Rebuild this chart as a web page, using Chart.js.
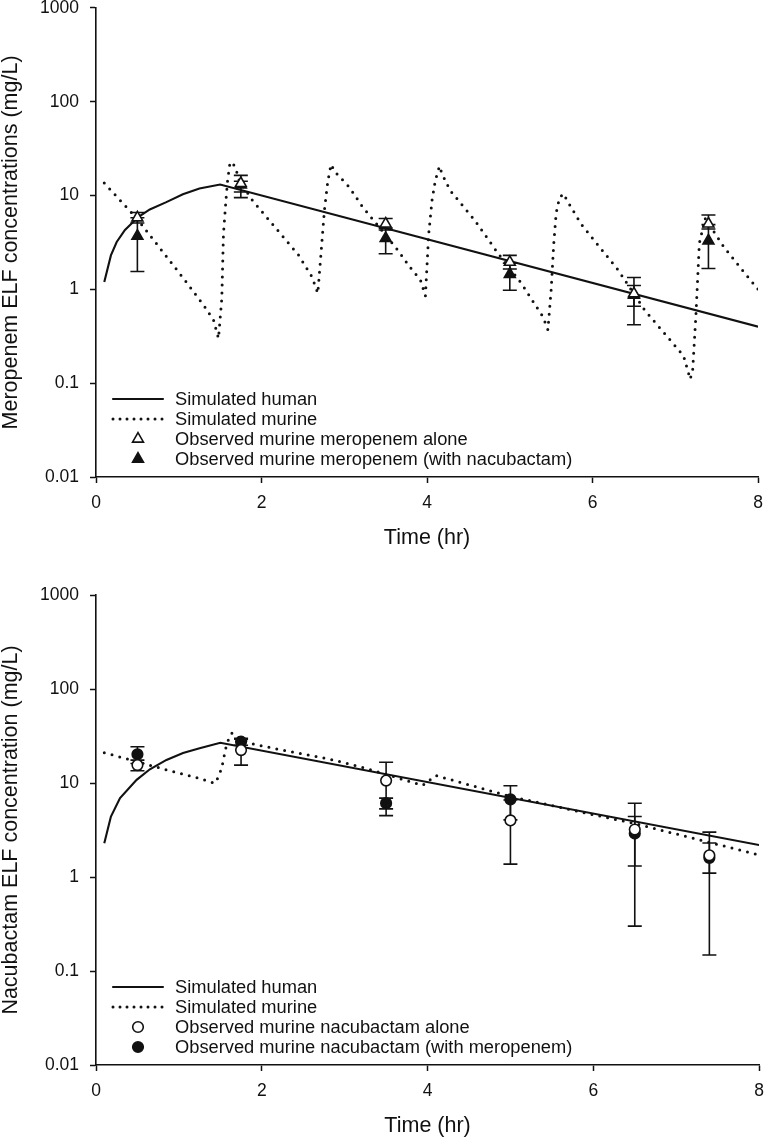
<!DOCTYPE html>
<html>
<head>
<meta charset="utf-8">
<title>ELF concentrations</title>
<script src="https://cdn.jsdelivr.net/npm/chart.js@4.4.1/dist/chart.umd.min.js"></script>
<style>
  body { margin: 0; background: #fff; }
  .panel { position: relative; width: 766px; }
  canvas { display: block; }
</style>
</head>
<body>
<div class="panel" style="height:560px"><canvas id="mero-chart" width="766" height="560"></canvas></div>
<div class="panel" style="height:579px"><canvas id="nacu-chart" width="766" height="579"></canvas></div>

<script>
// ---- data ----

const xTicks = [0, 2, 4, 6, 8];
const yTicks = [0.01, 0.1, 1, 10, 100, 1000];

// sampling times of the observed murine data (hr)
const obsTime = [0.5, 1.75, 3.5, 5.0, 6.5, 7.4];

// Meropenem, simulated human
const meroHumanTime = [0.1, 0.18, 0.25, 0.35, 0.51, 0.65, 0.85, 1.05, 1.25, 1.5, 8];
const meroHumanConc = [1.2, 2.3, 3.2, 4.3, 5.9, 7.1, 8.5, 10.3, 11.9, 13.1, 0.4];

// Meropenem, simulated murine (sawtooth from repeated doses)
const meroMurineTime = [0.1, 0.5, 1.09, 1.31, 1.42, 1.48, 1.52, 1.54, 1.57, 1.59, 1.62, 1.68, 1.73, 1.89,
  2.45, 2.61, 2.68, 2.72, 2.76, 2.8, 2.84, 2.89, 3.06, 3.22, 3.65, 3.79, 3.92, 3.98,
  4.02, 4.06, 4.1, 4.15, 4.18, 4.28, 4.58, 4.86, 5.14, 5.4, 5.46, 5.5, 5.53, 5.56, 5.6, 5.65,
  5.69, 5.86, 6.31, 6.63, 6.95, 7.1, 7.18, 7.21, 7.25, 7.29, 7.36, 7.43, 7.59, 7.81, 8.0];
const meroMurineConc = [13.6, 5.6, 1.2, 0.66, 0.47, 0.3, 0.8, 3.9, 8.9, 14.5, 22.7, 20.6, 14.5, 8.9,
  2.3, 1.36, 0.91, 2.5, 7, 14, 21.5, 17.8, 12.3, 7.6, 2.6, 1.74, 1.26, 0.85,
  3.9, 8.9, 14.5, 20.6, 17.1, 11.3, 5.4, 2.4, 1.16, 0.51, 0.37, 1.0, 3.0, 6.5, 9.5, 10.5,
  8.9, 5.0, 1.6, 0.6, 0.28, 0.195, 0.11, 0.14, 0.56, 3.1, 5.7, 4.6, 2.8, 1.6, 1.0];

// Meropenem, observed murine (mean, lower and upper end of the error bar)
const meroAloneMean = [5.8, 13.5, 5.0, 1.95, 0.9, 5.0];
const meroAloneLow  = [5.1, 10.9, 4.3, 1.65, 0.42, 4.4];
const meroAloneHigh = [6.6, 16.4, 5.7, 2.3, 1.34, 6.2];
const meroComboMean = [3.7, 13.0, 3.5, 1.45, 0.87, 3.3];
const meroComboLow  = [1.55, 9.5, 2.4, 0.98, 0.66, 1.67];
const meroComboHigh = [5.8, 14.2, 4.5, 1.9, 1.1, 4.9];

// Nacubactam, simulated human
const nacuHumanTime = [0.1, 0.18, 0.29, 0.49, 0.65, 0.85, 1.05, 1.25, 1.5, 8];
const nacuHumanConc = [2.28, 4.4, 6.9, 10.8, 14.0, 17.6, 20.8, 23.4, 26.8, 2.19];

// Nacubactam, simulated murine
const nacuMurineTime = [0.1, 0.85, 1.25, 1.43, 1.48, 1.52, 1.54, 1.57, 1.61, 1.64, 1.75, 1.9, 2.05,
  2.86, 3.26, 3.66, 3.94, 4.1, 5.0, 6.0, 6.5, 8.0];
const nacuMurineConc = [21, 13.8, 11.2, 9.9, 11.7, 14.9, 18.3, 24.3, 31.1, 33.8, 29.5, 26, 24.3,
  17.6, 14.3, 11.2, 9.4, 12.0, 7.2, 4.6, 3.7, 1.72];

// Nacubactam, observed murine
const nacuAloneMean = [15.5, 22.4, 10.6, 4.0, 3.2, 1.7];
const nacuAloneLow  = [13.5, 15.5, 4.5, 1.37, 0.3, 1.1];
const nacuAloneHigh = [17.5, 29.3, 16.6, 6.6, 6.1, 2.3];
const nacuComboMean = [20.2, 27.5, 6.1, 6.7, 2.9, 1.6];
const nacuComboLow  = [16.1, 25.2, 5.3, 4.05, 1.31, 0.148];
const nacuComboHigh = [24.3, 29.8, 6.9, 9.35, 4.4, 3.0];

// ---- drawing ----

const INK = '#111111';
const FONT = '"Liberation Sans", Arial, Helvetica, sans-serif';
Chart.defaults.font.family = FONT;
Chart.defaults.color = INK;

function toPoints(xs, ys) {
  return xs.map((x, i) => ({ x: x, y: ys[i] }));
}

// vertical error bars with caps, drawn just under each marker set
const errorBarPlugin = {
  id: 'errorBars',
  beforeDatasetDraw(chart, args) {
    const ds = chart.data.datasets[args.index];
    if (!ds.errLow) return;
    const { ctx, scales: { x, y } } = chart;
    ctx.save();
    ctx.strokeStyle = INK;
    ctx.lineWidth = 1.6;
    ds.data.forEach((pt, i) => {
      const px = x.getPixelForValue(pt.x);
      const top = y.getPixelForValue(ds.errHigh[i]);
      const bottom = y.getPixelForValue(ds.errLow[i]);
      ctx.beginPath();
      ctx.moveTo(px, top);
      ctx.lineTo(px, bottom);
      ctx.moveTo(px - 7, top);
      ctx.lineTo(px + 7, top);
      ctx.moveTo(px - 7, bottom);
      ctx.lineTo(px + 7, bottom);
      ctx.stroke();
    });
    ctx.restore();
  }
};

// legend sitting in the lower left corner of the plot
const cornerLegendPlugin = {
  id: 'cornerLegend',
  afterDatasetsDraw(chart) {
    const { ctx, chartArea } = chart;
    const rowOffsets = [78, 58, 38, 18];
    const x0 = chartArea.left + 17;
    const x1 = chartArea.left + 67;
    ctx.save();
    ctx.font = '18.3px ' + FONT;
    ctx.textBaseline = 'middle';
    chart.data.datasets.forEach((ds, i) => {
      const y = chartArea.bottom - rowOffsets[i];
      ctx.strokeStyle = INK;
      if (ds.showLine) {
        ctx.lineWidth = ds.borderWidth;
        ctx.lineCap = 'round';
        ctx.setLineDash(ds.borderDash ? [0, 7] : []);
        ctx.beginPath();
        ctx.moveTo(x0, y);
        ctx.lineTo(x1, y);
        ctx.stroke();
        ctx.setLineDash([]);
      } else {
        ctx.fillStyle = ds.backgroundColor;
        ctx.lineWidth = ds.borderWidth;
        Chart.helpers.drawPoint(ctx, {
          pointStyle: ds.pointStyle,
          radius: ds.pointRadius,
          rotation: 0,
          borderWidth: ds.borderWidth
        }, (x0 + x1) / 2, y);
      }
      ctx.fillStyle = INK;
      ctx.fillText(ds.label, chartArea.left + 79, y + 1);
    });
    ctx.restore();
  }
};

function makeChart(canvasId, cfg) {
  const ctx = document.getElementById(canvasId).getContext('2d');
  return new Chart(ctx, {
    type: 'scatter',
    data: {
      datasets: [
        {
          label: 'Simulated human',
          data: toPoints(cfg.humanTime, cfg.humanConc),
          showLine: true, pointRadius: 0, tension: 0,
          borderColor: INK, borderWidth: 2.1,
          order: 3
        },
        {
          label: 'Simulated murine',
          data: toPoints(cfg.murineTime, cfg.murineConc),
          showLine: true, pointRadius: 0, tension: 0,
          borderColor: INK, borderWidth: 3,
          borderDash: [0, 8], borderCapStyle: 'round',
          order: 2
        },
        {
          label: cfg.aloneLabel,
          data: toPoints(obsTime, cfg.aloneMean),
          errLow: cfg.aloneLow, errHigh: cfg.aloneHigh,
          pointStyle: cfg.marker, pointRadius: cfg.markerRadius,
          backgroundColor: '#ffffff', borderColor: INK, borderWidth: 1.6,
          order: 0
        },
        {
          label: cfg.comboLabel,
          data: toPoints(obsTime, cfg.comboMean),
          errLow: cfg.comboLow, errHigh: cfg.comboHigh,
          pointStyle: cfg.marker, pointRadius: cfg.markerRadius,
          backgroundColor: INK, borderColor: INK, borderWidth: 1.6,
          order: 1
        }
      ]
    },
    options: {
      responsive: false,
      animation: false,
      events: [],
      layout: { padding: cfg.padding },
      scales: {
        x: {
          type: 'linear', min: 0, max: 8,
          afterBuildTicks: (s) => { s.ticks = xTicks.map(v => ({ value: v })); },
          afterFit: (s) => { s.height = 74; s.paddingLeft = 0; s.paddingRight = 0; },
          grid: { drawOnChartArea: false, drawTicks: true, tickLength: 6, tickWidth: 1.5, tickColor: INK },
          border: { display: true, color: INK, width: 1.6 },
          ticks: { color: INK, font: { size: 17.5 }, padding: 10, maxRotation: 0 },
          title: { display: true, text: 'Time (hr)', color: INK, font: { size: 21.5 }, padding: 0 }
        },
        y: {
          type: 'logarithmic', min: 0.01, max: 1000,
          afterBuildTicks: (s) => { s.ticks = yTicks.map(v => ({ value: v })); },
          afterFit: (s) => { s.width = 96; s.paddingTop = 0; s.paddingBottom = 0; },
          grid: { drawOnChartArea: false, drawTicks: true, tickLength: 6, tickWidth: 1.5, tickColor: INK },
          border: { display: true, color: INK, width: 1.6 },
          ticks: {
            color: INK, font: { size: 17.5 }, padding: 11,
            callback: (v) => yTicks.includes(v) ? String(v) : ''
          },
          title: { display: true, text: cfg.yTitle, color: INK, font: { size: 21.5, lineHeight: 1.0 }, padding: 0 }
        }
      },
      plugins: {
        legend: { display: false },
        tooltip: { enabled: false }
      }
    },
    plugins: [errorBarPlugin, cornerLegendPlugin]
  });
}

makeChart('mero-chart', {
  yTitle: 'Meropenem ELF concentrations (mg/L)',
  humanTime: meroHumanTime, humanConc: meroHumanConc,
  murineTime: meroMurineTime, murineConc: meroMurineConc,
  aloneLabel: 'Observed murine meropenem alone',
  comboLabel: 'Observed murine meropenem (with nacubactam)',
  aloneMean: meroAloneMean, aloneLow: meroAloneLow, aloneHigh: meroAloneHigh,
  comboMean: meroComboMean, comboLow: meroComboLow, comboHigh: meroComboHigh,
  marker: 'triangle', markerRadius: 6.3,
  padding: { top: 7, right: 5, bottom: 9, left: 0 }
});

makeChart('nacu-chart', {
  yTitle: 'Nacubactam ELF concentration (mg/L)',
  humanTime: nacuHumanTime, humanConc: nacuHumanConc,
  murineTime: nacuMurineTime, murineConc: nacuMurineConc,
  aloneLabel: 'Observed murine nacubactam alone',
  comboLabel: 'Observed murine nacubactam (with meropenem)',
  aloneMean: nacuAloneMean, aloneLow: nacuAloneLow, aloneHigh: nacuAloneHigh,
  comboMean: nacuComboMean, comboLow: nacuComboLow, comboHigh: nacuComboHigh,
  marker: 'circle', markerRadius: 5.3,
  padding: { top: 35, right: 5, bottom: 0, left: 0 }
});
</script>
</body>
</html>
